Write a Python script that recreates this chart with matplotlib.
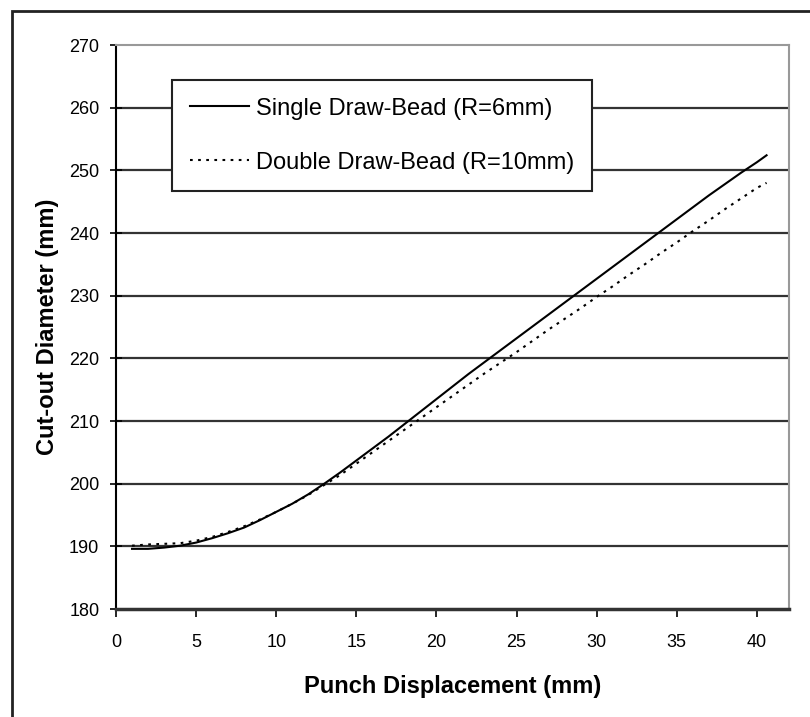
import matplotlib
matplotlib.use("Agg")
import matplotlib.pyplot as plt
from matplotlib.patches import Rectangle

plt.rcParams['font.family'] = ['Liberation Sans', 'DejaVu Sans']

# punch displacement (mm)
x_vals = [1, 2, 3, 4, 5, 6, 7, 8, 9, 10, 11, 12, 13, 14, 15, 16, 17, 18, 19, 20,
          21, 22, 23, 24, 25, 26, 27, 28, 29, 30, 31, 32, 33, 34, 35, 36, 37, 38,
          39, 40, 40.6]

# cut-out diameter (mm)
single_bead = [189.6, 189.6, 189.8, 190.1, 190.6, 191.3, 192.1, 193.0, 194.2, 195.5,
               196.8, 198.3, 200.0, 201.8, 203.7, 205.6, 207.5, 209.5, 211.5, 213.5,
               215.5, 217.5, 219.4, 221.3, 223.2, 225.1, 227.0, 228.9, 230.8, 232.7,
               234.6, 236.5, 238.4, 240.3, 242.2, 244.1, 246.0, 247.8, 249.6, 251.3,
               252.4]
double_bead = [190.1, 190.3, 190.4, 190.5, 190.9, 191.5, 192.3, 193.2, 194.3, 195.5,
               196.8, 198.2, 199.8, 201.4, 203.2, 205.0, 206.8, 208.6, 210.4, 212.2,
               214.0, 215.8, 217.6, 219.3, 221.0, 222.8, 224.6, 226.3, 228.0, 229.8,
               231.5, 233.3, 235.0, 236.8, 238.5, 240.3, 242.0, 243.8, 245.5, 247.2,
               248.0]

x_ticks = [0, 5, 10, 15, 20, 25, 30, 35, 40]
y_ticks = [180, 190, 200, 210, 220, 230, 240, 250, 260, 270]

fig = plt.figure(figsize=(8.1, 7.17), dpi=100)
ax = fig.add_axes([116 / 810, 1 - 609 / 717, 673 / 810, 564 / 717])

# outer frame around the figure (runs off the right and bottom edges)
fig.patches.append(Rectangle((12 / 810, -0.1), 1.1, 1.1 - 11 / 717, transform=fig.transFigure,
                             fill=False, edgecolor='#222222', linewidth=2))

for yv in y_ticks[1:-1]:
    ax.axhline(yv, color='#333333', linewidth=1.6, zorder=1)

ax.plot(x_vals, single_bead, color='black', linewidth=1.5, linestyle='-',
        label='Single Draw-Bead (R=6mm)', zorder=3)
ax.plot(x_vals, double_bead, color='black', linewidth=1.5, linestyle=(0, (1.3, 2.6)),
        label='Double Draw-Bead (R=10mm)', zorder=3)

ax.set_xlim(0, 42)
ax.set_ylim(180, 270)
ax.set_xticks(x_ticks)
ax.set_yticks(y_ticks)
ax.tick_params(axis='x', direction='out', length=6, width=1.2, labelsize=13, pad=12)
ax.tick_params(axis='y', direction='inout', length=8, width=1.2, labelsize=13, pad=8)

ax.spines['left'].set_linewidth(1.5)
ax.spines['bottom'].set_linewidth(2.5)
ax.spines['bottom'].set_color('#333333')
for side in ['top', 'right']:
    ax.spines[side].set_color('#999999')
    ax.spines[side].set_linewidth(1.5)

ax.set_xlabel('Punch Displacement (mm)', fontsize=17, fontweight='bold', labelpad=17)
ax.set_ylabel('Cut-out Diameter (mm)', fontsize=17, fontweight='bold', labelpad=7)

leg = ax.legend(loc='upper left', bbox_to_anchor=(56 / 673, 529 / 564), borderaxespad=0,
                fontsize=17, frameon=True, fancybox=False, edgecolor='#222222', framealpha=1,
                handlelength=2.5, borderpad=0.75, labelspacing=1.35, handletextpad=0.3)
leg.get_frame().set_linewidth(1.5)

fig.savefig('out.png', dpi=100)
